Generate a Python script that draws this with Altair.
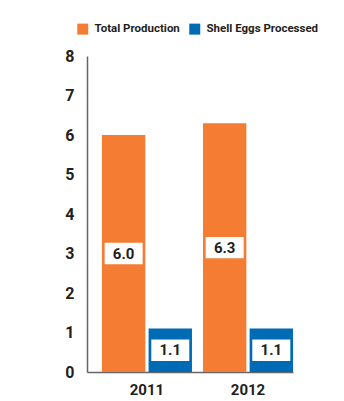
import altair as alt
import pandas as pd

years = ["2011", "2012"]
series = ["Total Production", "Shell Eggs Processed"]
total_production = [6.0, 6.3]
shell_eggs = [1.1, 1.1]
y_ticks = [0, 1, 2, 3, 4, 5, 6, 7, 8]
colors = ["#F47C33", "#006BB5"]

rows = []
for i, yr in enumerate(years):
    rows.append({"year": yr, "series": series[0], "value": total_production[i]})
    rows.append({"year": yr, "series": series[1], "value": shell_eggs[i]})
df = pd.DataFrame(rows)

FONT = "Roboto"
TXT = "#231F20"

x_axis = alt.Axis(labelAngle=0, ticks=False, labelFont=FONT, labelFontSize=15,
                  labelFontWeight="bold", labelColor=TXT, labelPadding=10,
                  domainColor="#666666", domainWidth=1.5)
x_scale = alt.Scale(paddingInner=0.109, paddingOuter=0.074, align=1)
y_axis = alt.Axis(values=y_ticks, grid=False, ticks=False, labelFont=FONT,
                  labelFontSize=16, labelFontWeight="bold", labelColor=TXT,
                  labelPadding=13, domainColor="#666666", domainWidth=1.5)
yscale = alt.Scale(domain=[0, 8], nice=False)
xo = alt.XOffset("series:N", sort=series, scale=alt.Scale(domain=series, paddingInner=0.07))


def xenc():
    return alt.X("year:N", title=None, sort=years, scale=x_scale, axis=x_axis)


bars = alt.Chart(df).mark_bar().encode(
    x=xenc(),
    xOffset=xo,
    y=alt.Y("value:Q", title=None, scale=yscale, axis=y_axis),
    color=alt.Color("series:N", sort=series,
                    scale=alt.Scale(domain=series, range=colors),
                    legend=alt.Legend(title=None, orient="none", legendX=-10, legendY=-33,
                                      direction="horizontal", symbolType="square",
                                      symbolSize=121, symbolStrokeWidth=0,
                                      labelFont=FONT, labelFontSize=11.5,
                                      labelFontWeight="bold", labelColor=TXT,
                                      columnPadding=9, labelOffset=6)),
)

base = alt.Chart(df).transform_calculate(
    mid="datum.value / 2",
    lo="datum.value / 2 - 0.27",
    hi="datum.value / 2 + 0.27",
)

boxes = base.mark_bar(color="white", width=38).encode(
    x=xenc(),
    xOffset=xo,
    y=alt.Y("lo:Q", title=None, scale=yscale, axis=y_axis),
    y2="hi:Q",
)

labels = base.mark_text(font=FONT, fontSize=15, fontWeight="bold", color=TXT,
                        baseline="middle", align="center").encode(
    x=xenc(),
    xOffset=xo,
    y=alt.Y("mid:Q", title=None, scale=yscale, axis=y_axis),
    text=alt.Text("value:Q", format=".1f"),
)

chart = alt.layer(bars, boxes, labels).properties(
    width=206, height=316,
    autosize=alt.AutoSizeParams(type="none"),
    padding={"left": 87, "top": 56, "right": 51, "bottom": 29},
    background="white",
).configure_view(stroke=None)

chart.save("out.html", embed_options={"renderer": "svg", "actions": False})
